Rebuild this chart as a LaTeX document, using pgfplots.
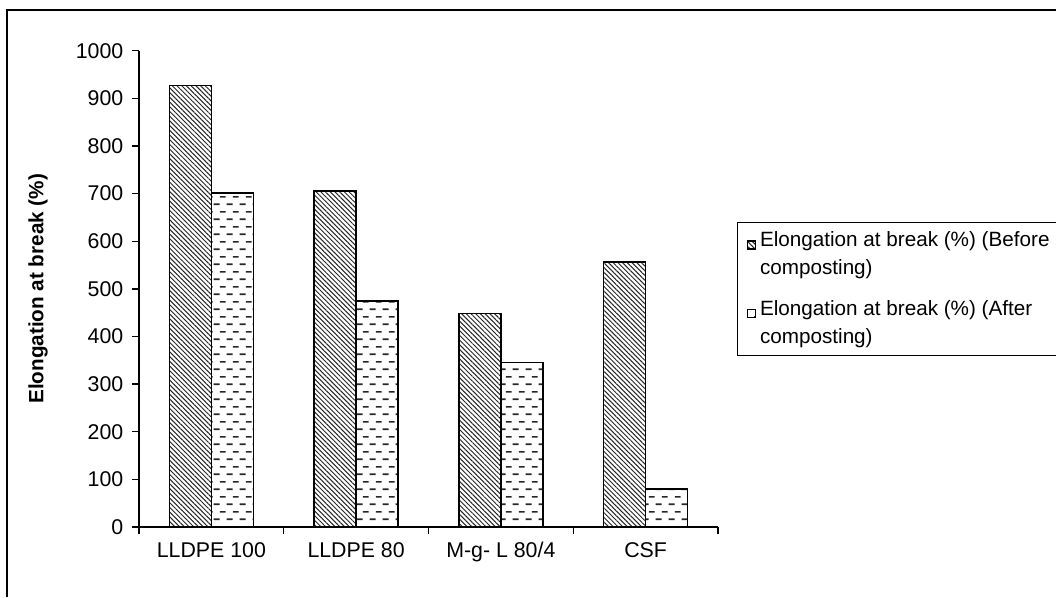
\documentclass[border=0pt]{standalone}
\usepackage{pgfplots}
\pgfplotsset{compat=1.18}
\usepackage{fontspec}
\setmainfont{Liberation Sans}
\usetikzlibrary{patterns,patterns.meta}
\pgfdeclarepatternformonly{hdash}{\pgfqpoint{0pt}{0pt}}{\pgfqpoint{10pt}{11.2pt}}{\pgfqpoint{10pt}{11.2pt}}{%
  \pgfsetlinewidth{1.2pt}%
  \pgfpathmoveto{\pgfqpoint{0.5pt}{2.8pt}}\pgfpathlineto{\pgfqpoint{5.2pt}{2.8pt}}%
  \pgfpathmoveto{\pgfqpoint{5.5pt}{8.4pt}}\pgfpathlineto{\pgfqpoint{10pt}{8.4pt}}%
  \pgfusepath{stroke}}
\newcommand\legtext[1]{\parbox[b]{240pt}{\fontsize{15.5}{21}\selectfont #1}}
\begin{document}
\begin{tikzpicture}
\clip (0,0) rectangle (792pt,447.75pt);
\useasboundingbox (0,0) rectangle (792pt,447.75pt);
\draw[line width=1.5pt] (5.25pt,0) -- (5.25pt,440.25pt) -- (800pt,440.25pt);
\begin{axis}[
  scale only axis,
  width=434.25pt, height=357.2pt,
  at={(104.25pt,52.5pt)}, anchor=south west,
  ybar, bar width=0.29,
  xmin=-0.5, xmax=3.5, ymin=0, ymax=1000,
  axis x line*=bottom, axis y line*=left,
  axis line style={line width=1pt},
  every tick/.style={black, line width=1pt},
  tick align=outside,
  major tick length=5.25pt,
  ytick={0,100,...,1000},
  xtick={-0.5,0.5,1.5,2.5,3.5},
  xticklabels={},
  extra x ticks={0,1,2,3},
  extra x tick labels={LLDPE 100,LLDPE 80,M-g- L 80/4,CSF},
  extra x tick style={major tick length=0pt, xticklabel style={anchor=base, yshift=-23pt}},
  tick label style={font=\fontsize{16}{19}\selectfont},
  /pgf/number format/assume math mode=true,
  /pgf/number format/1000 sep={},
  yticklabel style={anchor=east, xshift=-3pt},
  ylabel={\textbf{Elongation at break (\%)}},
  ylabel style={at={(axis description cs:-0.1744,0.5)}, anchor=center, font=\fontsize{15.5}{18}\selectfont},
  legend style={at={(axis description cs:1.0328,0.6404)}, anchor=north west,
    draw=black, line width=1pt, font=\fontsize{15.5}{21}\selectfont,
    cells={anchor=base west, inner sep=1pt},
    row sep=14pt, inner ysep=5pt, inner xsep=7pt, column sep=1pt},
  legend image code/.code={\draw[#1, line width=0.8pt] (0pt,19.5pt) rectangle (6pt,25.5pt);},
]
\addplot[draw=black, line width=1.2pt, bar shift=-0.145,
  pattern={Lines[angle=-45, distance=2.5pt, line width=0.75pt]}, pattern color=black!85]
  coordinates {(0,927) (1,706) (2,448) (3,557)};
\addlegendentry{\legtext{Elongation at break (\%) (Before\\composting)}}
\addplot[draw=black, line width=1.2pt, bar shift=0.145,
  pattern=hdash, pattern color=black!85]
  coordinates {(0,701) (1,475) (2,345) (3,80)};
\addlegendentry{\legtext{Elongation at break (\%) (After\\composting)}}
\end{axis}
\end{tikzpicture}
\end{document}
